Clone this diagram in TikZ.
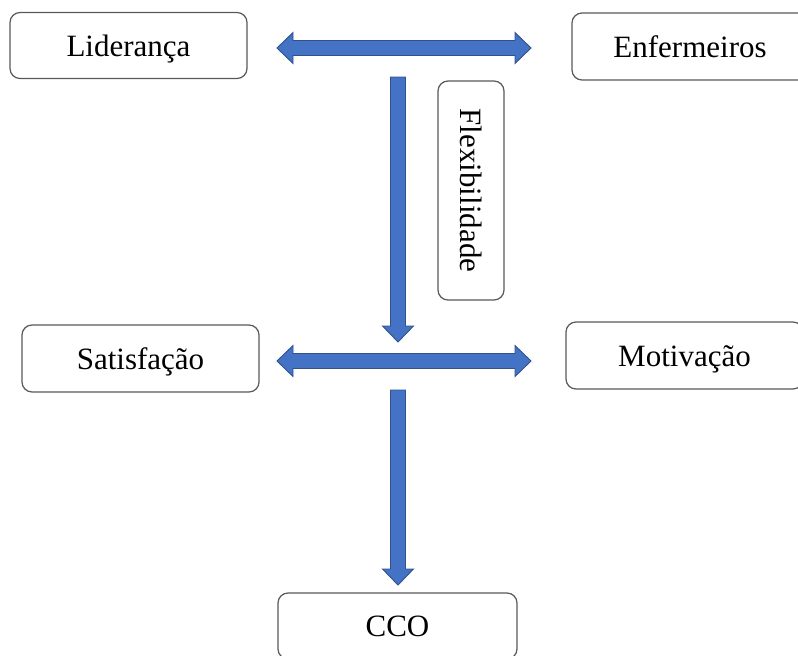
\documentclass[tikz,border=0pt]{standalone}
\usepackage{fontspec}
\setmainfont{Liberation Serif}
\usetikzlibrary{calc}
\definecolor{arrowfill}{HTML}{4472C4}
\definecolor{arrowedge}{HTML}{2F528F}
\definecolor{boxedge}{HTML}{595959}
\tikzset{
  box/.style={draw=boxedge, line width=1.2pt, rounded corners=10pt, fill=white,
    inner sep=0pt, text height=21pt, text depth=0pt,
    font=\fontsize{31}{37}\selectfont},
  blockarrow/.style={fill=arrowfill, draw=arrowedge, line width=0.9pt, line join=miter}
}
\begin{document}
\begin{tikzpicture}[x=1pt, y=-1pt]
  \useasboundingbox (0,0) rectangle (798,656);
  \clip (0,0) rectangle (798,656);

  % boxes
  \node[box, minimum width=237pt, minimum height=66pt] (lid) at (128.5,45.5) {Liderança};
  \node[box, minimum width=236pt, minimum height=67pt] (enf) at (690,46.5) {Enfermeiros};
  \node[box, rotate=-90, minimum width=219pt, minimum height=66pt] (flex) at (471,190.5) {Flexibilidade};
  \node[box, minimum width=237pt, minimum height=67pt] (sat) at (140.5,358.5) {Satisfação};
  \node[box, minimum width=237pt, minimum height=67pt] (mot) at (684.5,355.5) {Motivação};
  \node[box, minimum width=239pt, minimum height=66pt] (cco) at (397.5,626) {CCO};

  % arrow end points
  \coordinate (t1) at (277,48);
  \coordinate (t2) at (531,48);
  \coordinate (m1) at (277,361);
  \coordinate (m2) at (531,361);
  \coordinate (v1a) at (398,77);
  \coordinate (v1b) at (398,342);
  \coordinate (v2a) at (398,390);
  \coordinate (v2b) at (398,585);

  % horizontal double arrows (shaft 15, head 31 x 16)
  \foreach \a/\b in {t1/t2, m1/m2}{
    \draw[blockarrow] (\a)
      -- ($(\a)+(16,-15.5)$) -- ($(\a)+(16,-7.5)$)
      -- ($(\b)+(-16,-7.5)$) -- ($(\b)+(-16,-15.5)$)
      -- (\b)
      -- ($(\b)+(-16,15.5)$) -- ($(\b)+(-16,7.5)$)
      -- ($(\a)+(16,7.5)$) -- ($(\a)+(16,15.5)$) -- cycle;
  }

  % vertical single arrows (shaft 15, head 31 x 16)
  \foreach \a/\b in {v1a/v1b, v2a/v2b}{
    \draw[blockarrow] ($(\a)+(-7.5,0)$) -- ($(\b)+(-7.5,-16)$)
      -- ($(\b)+(-15.5,-16)$) -- (\b) -- ($(\b)+(15.5,-16)$)
      -- ($(\b)+(7.5,-16)$) -- ($(\a)+(7.5,0)$) -- cycle;
  }
\end{tikzpicture}
\end{document}
